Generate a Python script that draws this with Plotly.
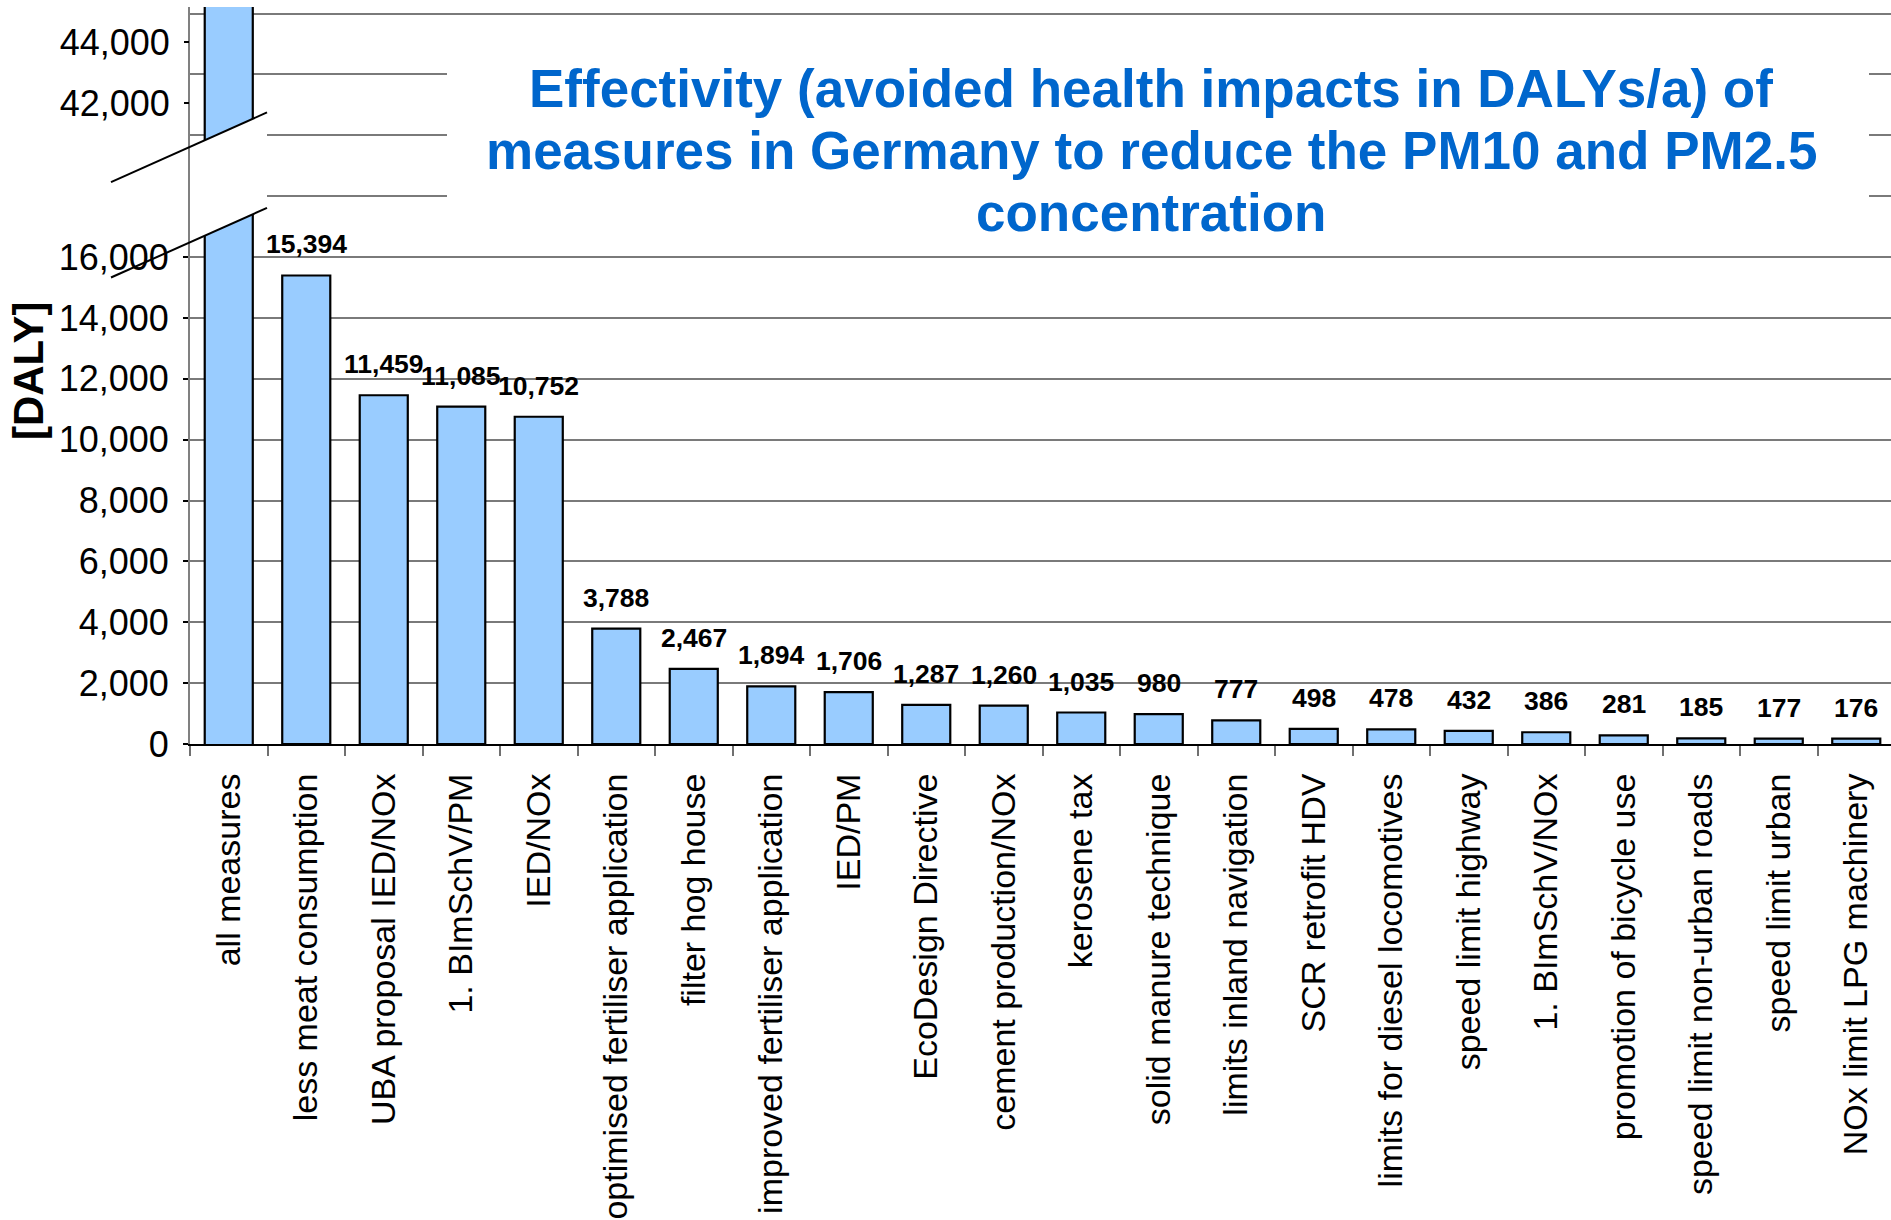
import plotly.graph_objects as go

# ---- data -------------------------------------------------------------
categories = [
    "all measures",
    "less meat consumption",
    "UBA proposal IED/NOx",
    "1. BImSchV/PM",
    "IED/NOx",
    "optimised fertiliser application",
    "filter hog house",
    "improved fertiliser application",
    "IED/PM",
    "EcoDesign Directive",
    "cement production/NOx",
    "kerosene tax",
    "solid manure technique",
    "limits inland navigation",
    "SCR retrofit HDV",
    "limits for diesel locomotives",
    "speed limit highway",
    "1. BImSchV/NOx",
    "promotion of bicycle use",
    "speed limit non-urban roads",
    "speed limit urban",
    "NOx limit LPG machinery",
]

# the combined effect of all measures, shown on the broken upper scale
all_measures_value = 46000

# single measures, drawn on the lower scale
measure_values = [15394, 11459, 11085, 10752, 3788, 2467, 1894, 1706, 1287,
                  1260, 1035, 980, 777, 498, 478, 432, 386, 281, 185, 177, 176]

lower_ticks = [0, 2000, 4000, 6000, 8000, 10000, 12000, 14000, 16000]
upper_ticks = [42000, 44000]

title_lines = [
    "Effectivity (avoided health impacts in DALYs/a) of",
    "measures in Germany to reduce the PM10 and PM2.5",
    "concentration",
]

# ---- layout geometry (pixels) ----------------------------------------
W, H = 1891, 1220
PLOT_L, PLOT_T = 190, 7
PLOT_W = W - PLOT_L
PLOT_B = 748
PLOT_H = PLOT_B - PLOT_T
PX_PER_2000 = 61.2
Y_SPAN = PLOT_H / PX_PER_2000 * 2000       # value span of the plot height
BREAK_OFFSET = 20950                       # shift of the upper scale

FONT = "Liberation Sans, Arial, sans-serif"
BAR_FILL = "#99CCFF"
GRID = "#7a7a7a"
TITLE_BLUE = "#0066CC"


def px_x(x):
    return (x - PLOT_L) / PLOT_W


def px_y(y):
    return (PLOT_B - y) / PLOT_H


fig = go.Figure()

# bars of single measures (lower scale)
fig.add_trace(go.Bar(
    x=categories[1:], y=measure_values,
    marker=dict(color=BAR_FILL, line=dict(color="black", width=2.2)),
    width=0.62, xaxis="x", yaxis="y", showlegend=False,
))

# "all measures" bar on the upper, shifted scale
fig.add_trace(go.Bar(
    x=categories[:1], y=[all_measures_value],
    marker=dict(color=BAR_FILL, line=dict(color="black", width=2.2)),
    width=0.62, xaxis="x", yaxis="y2", showlegend=False,
))

# value labels above the single-measure bars
for cat, val in zip(categories[1:], measure_values):
    fig.add_annotation(
        x=cat, y=val, xref="x", yref="y", text=f"{val:,}",
        showarrow=False, yanchor="middle", yshift=31,
        font=dict(family=FONT, size=26.5, color="black", weight="bold"),
    )

# title block on a white panel
fig.add_shape(type="rect", xref="paper", yref="paper",
              x0=px_x(447), x1=px_x(1869), y0=px_y(245), y1=px_y(24),
              fillcolor="white", line=dict(width=0), layer="above")
for i, line in enumerate(title_lines):
    fig.add_annotation(
        x=px_x(1151), y=px_y(89 + 62.5 * i), xref="paper", yref="paper",
        text=line, showarrow=False, xanchor="center", yanchor="middle",
        font=dict(family=FONT, size=53, color=TITLE_BLUE, weight="bold"),
    )

# axis break: white gap between two slanted lines
slope = (113 - 183) / (267 - 111)
up_y = lambda x: 183 + (x - 111) * slope
lo_y = lambda x: 279 + (x - 111) * slope
gap_path = (f"M {px_x(190)} {px_y(up_y(190))} L {px_x(267)} {px_y(up_y(267))} "
            f"L {px_x(267)} {px_y(lo_y(267))} L {px_x(190)} {px_y(lo_y(190))} Z")
fig.add_shape(type="path", xref="paper", yref="paper", path=gap_path,
              fillcolor="white", line=dict(width=0), layer="above")
for f in (up_y, lo_y):
    fig.add_shape(type="line", xref="paper", yref="paper",
                  x0=px_x(111), y0=px_y(f(111)), x1=px_x(267), y1=px_y(f(267)),
                  line=dict(color="black", width=2), layer="above")

# y axis title
fig.add_annotation(
    x=px_x(28), y=px_y(373), xref="paper", yref="paper", text="[DALY]",
    showarrow=False, textangle=-90, xanchor="center", yanchor="middle",
    font=dict(family=FONT, size=42, color="black", weight="bold"),
)

fig.update_layout(
    width=W, height=H,
    margin=dict(l=PLOT_L, r=0, t=PLOT_T, b=H - PLOT_B),
    plot_bgcolor="white", paper_bgcolor="white",
    barmode="overlay",
    font=dict(family=FONT, color="black"),
    xaxis=dict(
        type="category", categoryorder="array", categoryarray=categories,
        range=[-0.5, -0.5 + PLOT_W / 77.5],
        showline=True, linecolor="black", linewidth=2,
        ticks="outside", tickson="boundaries", ticklen=10,
        tickcolor="#707070", tickwidth=2,
        tickangle=-90, tickfont=dict(family=FONT, size=34, color="black"),
        ticklabelstandoff=14, showgrid=False,
    ),
    yaxis=dict(
        range=[0, Y_SPAN],
        tickmode="array", tickvals=lower_ticks,
        ticktext=[f"{v:,}" for v in lower_ticks],
        tickfont=dict(family=FONT, size=36, color="black"),
        ticks="outside", ticklen=5, tickwidth=2, tickcolor="black",
        showline=True, linecolor="#808080", linewidth=2,
        showgrid=True, gridcolor=GRID, gridwidth=1.5,
        minor=dict(tick0=0, dtick=2000, showgrid=True, gridcolor=GRID,
                   gridwidth=1.5, ticks=""),
        zeroline=False, ticklabelstandoff=7,
    ),
    yaxis2=dict(
        overlaying="y", anchor="x", side="left",
        range=[BREAK_OFFSET, BREAK_OFFSET + Y_SPAN],
        tickmode="array", tickvals=upper_ticks,
        ticktext=[f"{v:,}" for v in upper_ticks],
        tickfont=dict(family=FONT, size=36, color="black"),
        ticks="outside", ticklen=5, tickwidth=2, tickcolor="black",
        showline=False, showgrid=False, zeroline=False,
        ticklabelstandoff=7,
    ),
)

fig.write_html("out.html")
